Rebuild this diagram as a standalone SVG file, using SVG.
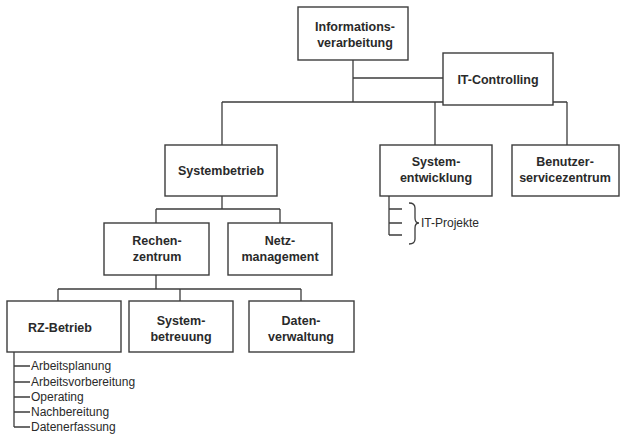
<svg xmlns="http://www.w3.org/2000/svg" width="621" height="435" viewBox="0 0 621 435">
  <style>
    .box { fill: #ffffff; stroke: #3c3c3c; stroke-width: 1.4; }
    .line { fill: none; stroke: #3c3c3c; stroke-width: 1.3; }
    .lbl { font-family: "Liberation Sans", Arial, sans-serif; font-size: 12.5px; font-weight: bold; fill: #2a2a2a; text-anchor: middle; }
    .item { font-family: "Liberation Sans", Arial, sans-serif; font-size: 12px; fill: #2a2a2a; }
  </style>
  <rect width="621" height="435" fill="#ffffff"/>

  <!-- connectors -->
  <g id="connectors" class="line">
    <path d="M353 60 V102 M353 78 H443"/>
    <path d="M222 102 H567 M222 102 V145 M435 102 V145 M567 102 V145"/>
    <path d="M222 196 V209 M156 209 H280 M156 209 V223 M280 209 V223"/>
    <path d="M156 275 V289 M58 289 H301 M58 289 V301 M180 289 V301 M301 289 V301"/>
    <!-- RZ-Betrieb tasks -->
    <path d="M14 352 V427 M14 366 H30 M14 382 H30 M14 397 H30 M14 412 H30 M14 427 H30"/>
    <!-- IT projects -->
    <path d="M389 196 V235 M389 209 H402 M389 223 H402 M389 235 H402"/>
    <path d="M409 203 Q415 203 415 208 V218 Q415 223 419 223 Q415 223 415 228 V239 Q415 244 409 244"/>
  </g>

  <g id="informationsverarbeitung">
    <rect class="box" x="298" y="7" width="110" height="53"/>
    <text class="lbl" x="355" y="31">Informations-</text>
    <text class="lbl" x="355" y="47">verarbeitung</text>
  </g>
  <g id="it-controlling">
    <rect class="box" x="443" y="53" width="110" height="52"/>
    <text class="lbl" x="498" y="84">IT-Controlling</text>
  </g>
  <g id="systembetrieb">
    <rect class="box" x="165" y="145" width="112" height="51"/>
    <text class="lbl" x="221" y="175">Systembetrieb</text>
  </g>
  <g id="systementwicklung">
    <rect class="box" x="380" y="145" width="112" height="51"/>
    <text class="lbl" x="436" y="166">System-</text>
    <text class="lbl" x="436" y="182">entwicklung</text>
  </g>
  <g id="benutzerservicezentrum">
    <rect class="box" x="512" y="145" width="107" height="51"/>
    <text class="lbl" x="565" y="166">Benutzer-</text>
    <text class="lbl" x="565" y="182">servicezentrum</text>
  </g>
  <g id="it-projekte">
    <text class="item" x="421" y="227">IT-Projekte</text>
  </g>
  <g id="rechenzentrum">
    <rect class="box" x="104" y="223" width="105" height="52"/>
    <text class="lbl" x="157" y="245">Rechen-</text>
    <text class="lbl" x="157" y="261">zentrum</text>
  </g>
  <g id="netzmanagement">
    <rect class="box" x="228" y="223" width="104" height="52"/>
    <text class="lbl" x="280" y="245">Netz-</text>
    <text class="lbl" x="280" y="261">management</text>
  </g>
  <g id="rz-betrieb">
    <rect class="box" x="7" y="301" width="114" height="51"/>
    <text class="lbl" x="60" y="332">RZ-Betrieb</text>
  </g>
  <g id="systembetreuung">
    <rect class="box" x="129" y="301" width="104" height="51"/>
    <text class="lbl" x="181" y="325">System-</text>
    <text class="lbl" x="181" y="341">betreuung</text>
  </g>
  <g id="datenverwaltung">
    <rect class="box" x="249" y="301" width="105" height="51"/>
    <text class="lbl" x="301" y="325">Daten-</text>
    <text class="lbl" x="301" y="341">verwaltung</text>
  </g>
  <g id="rz-aufgaben">
    <text class="item" x="31" y="370">Arbeitsplanung</text>
    <text class="item" x="31" y="386">Arbeitsvorbereitung</text>
    <text class="item" x="31" y="401">Operating</text>
    <text class="item" x="31" y="416">Nachbereitung</text>
    <text class="item" x="31" y="431">Datenerfassung</text>
  </g>
</svg>
